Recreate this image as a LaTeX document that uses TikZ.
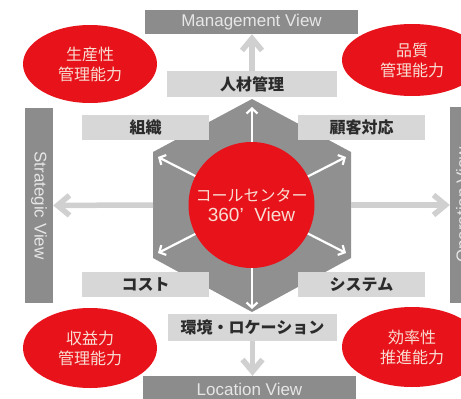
\documentclass[tikz,border=0pt]{standalone}
\usepackage{fontspec}
\setmainfont{Liberation Sans}
\newfontfamily\cjk{Noto Sans CJK JP}
\usetikzlibrary{arrows.meta,shapes.geometric}
\definecolor{cred}{HTML}{E8121A}
\definecolor{barg}{HTML}{8C8C8C}
\definecolor{hexg}{HTML}{909090}
\definecolor{lblg}{HTML}{D7D7D7}
\definecolor{larrow}{HTML}{D0D0D0}
\definecolor{bartext}{HTML}{E6E6E6}
\definecolor{lbltext}{HTML}{2B2B2B}
\definecolor{elltext}{HTML}{F8DDD2}
\begin{document}
\begin{tikzpicture}[x=1pt,y=-1pt,
  viewbar/.style={fill=barg, text=bartext, inner sep=0pt, font=\fontsize{17}{20}\selectfont},
  lblbox/.style={fill=lblg, text=lbltext, inner sep=0pt, font=\cjk\bfseries\fontsize{16}{20}\selectfont},
  capell/.style={ellipse, fill=cred, text=elltext, inner sep=0pt, align=center, font=\cjk\fontsize{16}{20}\selectfont},
  greyarrow/.style={draw=larrow, line width=5.5pt, -{Straight Barb[length=12pt,width=20pt]}},
  whitearrow/.style={draw=white, line width=2.2pt, -{Straight Barb[length=5pt,width=11pt]}}
]
\useasboundingbox (0,0) rectangle (461,399);
\clip (0,0) rectangle (461,399);
\fill[white] (0,0) rectangle (461,399);

% hexagon
\coordinate (hT) at (252,99);
\coordinate (hUL) at (153,152);
\coordinate (hLL) at (153,258);
\coordinate (hB) at (252,312);
\coordinate (hLR) at (351,258);
\coordinate (hUR) at (351,152);
\coordinate (hexL) at (153,205);
\coordinate (hexR) at (351,205);
\fill[hexg] (hT) -- (hUL) -- (hLL) -- (hB) -- (hLR) -- (hUR) -- cycle;

% white arrows
\coordinate (cc) at (252,205);
\coordinate (tT) at (252,107);
\coordinate (tB) at (252,309);
\coordinate (tUL) at (158,157);
\coordinate (tUR) at (346,157);
\coordinate (tLL) at (158,253);
\coordinate (tLR) at (346,253);
\foreach \t in {tT,tB,tUL,tUR,tLL,tLR} \draw[whitearrow] (cc) -- (\t);

% centre circle
\node[circle, fill=cred, minimum size=126pt, inner sep=0pt, text=elltext, align=center,
      font=\cjk\fontsize{16}{20}\selectfont] (c) at (251.5,205)
      {コールセンター\\{\rmfamily\fontsize{19}{20}\selectfont 360’\ \ View}};

% label boxes
\node[lblbox, minimum width=170pt, minimum height=26pt] (hr) at (252,84) {人材管理};
\node[lblbox, minimum width=127pt, minimum height=25pt] (org) at (145.5,127.5) {組織};
\node[lblbox, minimum width=127pt, minimum height=25pt] (cs) at (361.5,127.5) {顧客対応};
\node[lblbox, minimum width=127pt, minimum height=25pt] (cost) at (145.5,284.5) {コスト};
\node[lblbox, minimum width=127pt, minimum height=25pt] (sys) at (361.5,284.5) {システム};
\node[lblbox, minimum width=169pt, minimum height=27pt] (loc) at (252.5,327.5) {環境・ロケーション};

% view bars
\node[viewbar, minimum width=213pt, minimum height=24pt] (mv) at (251.5,22) {Management View};
\node[viewbar, minimum width=213pt, minimum height=26pt] (lv) at (249.5,389) {Location View};
\node[viewbar, rotate=-90, minimum width=195pt, minimum height=28pt] (sv) at (39,205.5) {Strategic View};
\node[viewbar, rotate=90, minimum width=196pt, minimum height=28pt] (ov) at (464,205) {Operation View};

% red ellipses
\node[capell, minimum width=134pt, minimum height=78pt] (e1) at (90,64) {生産性\\管理能力};
\node[capell, minimum width=140pt, minimum height=72pt] (e2) at (412,60) {品質\\管理能力};
\node[capell, minimum width=134pt, minimum height=80pt] (e3) at (90,348) {収益力\\管理能力};
\node[capell, minimum width=140pt, minimum height=80pt] (e4) at (412,347) {効率性\\推進能力};

% light grey arrows
\draw[greyarrow] (hr.north) -- (hr.north |- mv.south);
\draw[greyarrow] (loc.south) -- (loc.south |- lv.north);
\draw[greyarrow] (hexL) -- (sv);
\draw[greyarrow] (hexR) -- (ov);
\end{tikzpicture}
\end{document}
